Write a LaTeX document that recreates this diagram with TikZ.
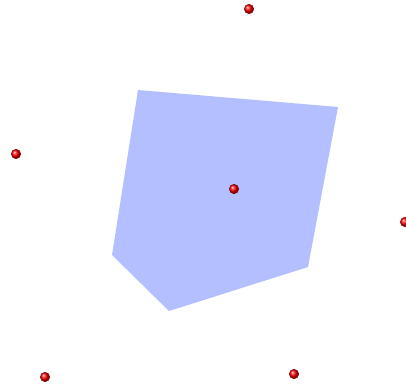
\documentclass[tikz,border=0pt]{standalone}
\usepackage{tikz}
\usetikzlibrary{positioning,calc,shapes}

\definecolor{cellblue}{RGB}{179,191,255}
\definecolor{siteedge}{RGB}{110,0,0}
\tikzset{site/.style={shape=circle, inner sep=0pt, minimum size=9.5pt, ball color=red, draw=siteedge, line width=0.4pt}}

\begin{document}
\begin{tikzpicture}[x=1pt,y=-1pt]
\useasboundingbox (0,0) rectangle (406,385);
\coordinate (v1) at (138,90);
\coordinate (v2) at (338,107);
\coordinate (v3) at (308,267);
\coordinate (v4) at (169,311);
\coordinate (v5) at (112,255);
\fill[cellblue] (v1) -- (v2) -- (v3) -- (v4) -- (v5) -- cycle;
\node[site] (s0) at (234,189) {};
\node[site] (s1) at (249,9) {};
\node[site] (s2) at (16,154) {};
\node[site] (s3) at (405,222) {};
\node[site] (s4) at (45,377) {};
\node[site] (s5) at (294,374) {};
\end{tikzpicture}
\end{document}
